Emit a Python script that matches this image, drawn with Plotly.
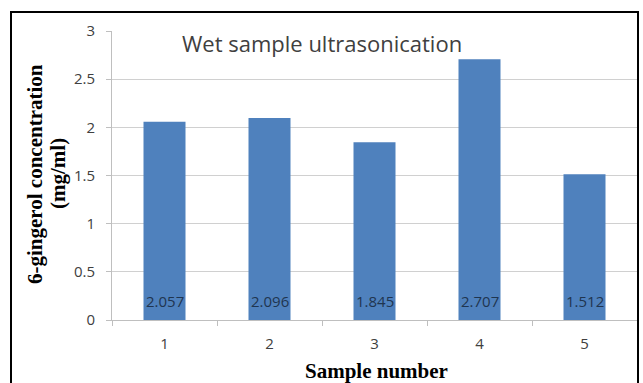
import plotly.graph_objects as go

samples = ["1", "2", "3", "4", "5"]
values = [2.057, 2.096, 1.845, 2.707, 1.512]
labels = ["2.057", "2.096", "1.845", "2.707", "1.512"]
yticks = [0, 0.5, 1, 1.5, 2, 2.5, 3]
yticklabels = ["0", "0.5", "1", "1.5", "2", "2.5", "3"]

fig = go.Figure()
fig.add_trace(go.Bar(
    x=samples, y=values,
    marker=dict(color="#4F81BD", line=dict(width=0)),
    width=0.4,
    hoverinfo="skip",
))

for i, (v, t) in enumerate(zip(values, labels)):
    fig.add_annotation(x=i, y=0, text=t, showarrow=False, yanchor="middle",
                       yshift=19, font=dict(family="Open Sans, sans-serif", size=15, color="#1F3550"))

fig.add_annotation(xref="paper", yref="paper", x=(180 - 112) / 525, y=1 + (31 - 43) / 289,
                   xanchor="left", yanchor="middle", showarrow=False,
                   text="Wet sample ultrasonication",
                   font=dict(family="Open Sans, sans-serif", size=22, color="#404040"))

serif = "Liberation Serif, Times New Roman, serif"
fig.add_annotation(xref="paper", yref="paper", x=(35 - 112) / 525, y=(320 - 174) / 289,
                   xanchor="center", yanchor="middle", showarrow=False, textangle=-90,
                   text="<b>6-gingerol concentration</b>",
                   font=dict(family=serif, size=21, color="#000000"))
fig.add_annotation(xref="paper", yref="paper", x=(58 - 112) / 525, y=(320 - 174) / 289,
                   xanchor="center", yanchor="middle", showarrow=False, textangle=-90,
                   text="<b>(mg/ml)</b>",
                   font=dict(family=serif, size=21, color="#000000"))

fig.add_annotation(xref="paper", yref="paper", x=(376 - 112) / 525, y=(320 - 371) / 289,
                   xanchor="center", yanchor="middle", showarrow=False,
                   text="<b>Sample number</b>",
                   font=dict(family=serif, size=21, color="#000000"))

fig.add_shape(type="rect", xref="paper", yref="paper",
              x0=(11 - 112) / 525, x1=(638 - 112) / 525,
              y0=-0.4, y1=1 + (31 - 12) / 289,
              line=dict(color="#000000", width=2), fillcolor="rgba(0,0,0,0)", layer="above")

fig.update_layout(
    width=643, height=383,
    margin=dict(l=112, r=6, t=31, b=63),
    paper_bgcolor="white", plot_bgcolor="white",
    showlegend=False,
    bargap=0.6,
    xaxis=dict(
        type="category", range=[-0.5, 4.5],
        showgrid=False, showline=True, linecolor="#BFBFBF", linewidth=1,
        ticks="outside", ticklen=5, tickcolor="#BFBFBF", tickson="boundaries",
        ticklabelstandoff=10,
        tickfont=dict(family="Open Sans, sans-serif", size=15, color="#404040"),
        zeroline=False,
    ),
    yaxis=dict(
        range=[0, 3], tickvals=yticks, ticktext=yticklabels,
        showgrid=True, gridcolor="#D0D0D0", gridwidth=1,
        showline=True, linecolor="#BFBFBF", linewidth=1,
        ticks="outside", ticklen=5, tickcolor="#BFBFBF",
        ticklabelstandoff=8,
        tickfont=dict(family="Open Sans, sans-serif", size=15, color="#404040"),
        zeroline=False,
    ),
)

fig.write_html("out.html")
